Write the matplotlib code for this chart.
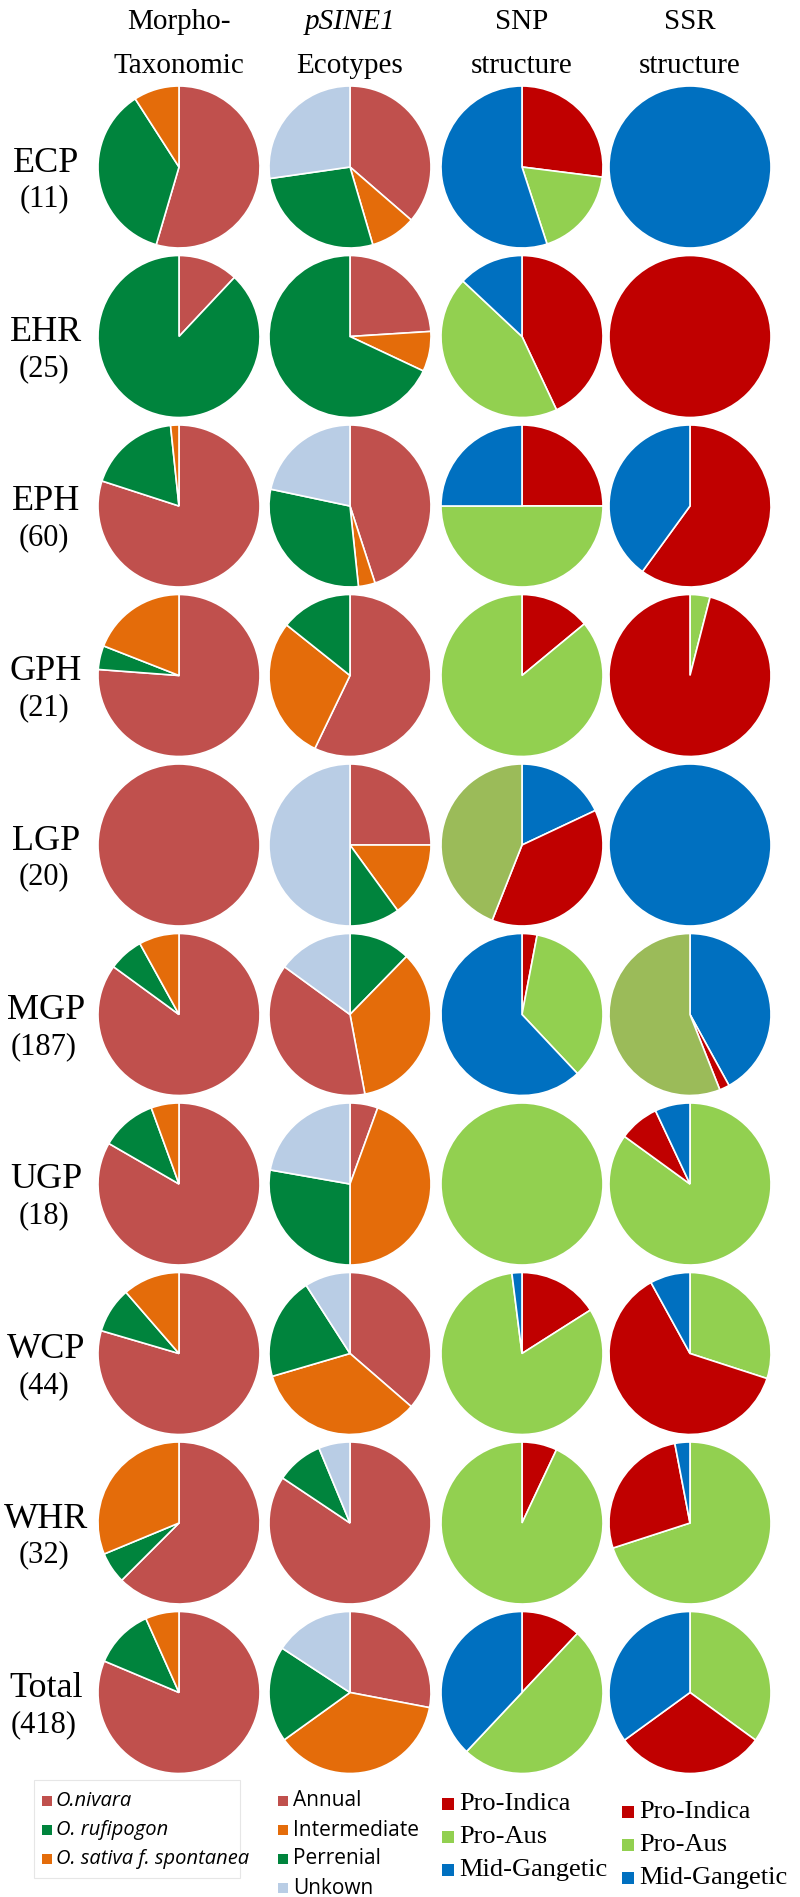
import matplotlib
matplotlib.use("Agg")
import matplotlib.pyplot as plt
from matplotlib.patches import Rectangle

regions = ["ECP", "EHR", "EPH", "GPH", "LGP", "MGP", "UGP", "WCP", "WHR", "Total"]
counts = ["(11)", "(25)", "(60)", "(21)", "(20)", "(187)", "(18)", "(44)", "(32)", "(418)"]
headers = [("Morpho-", "Taxonomic"), ("pSINE1", "Ecotypes"), ("SNP", "structure"), ("SSR", "structure")]

# Morpho-taxonomic: O.nivara, O. rufipogon, O. sativa f. spontanea
morpho = [[6, 4, 1], [3, 22, 0], [48, 11, 1], [16, 1, 4], [20, 0, 0],
          [159, 13, 15], [15, 2, 1], [35, 4, 5], [20, 2, 10], [340, 50, 28]]
# pSINE1 ecotypes: Annual, Intermediate, Perrenial, Unkown
ecotype = [[4, 1, 3, 3], [6, 2, 17, 0], [27, 2, 18, 13], [12, 6, 3, 0], [5, 3, 2, 10],
           [71, 65, 23, 28], [1, 8, 5, 4], [16, 15, 9, 4], [27, 0, 3, 2], [117, 155, 80, 66]]
# SNP structure: Pro-Indica, Pro-Aus, Mid-Gangetic
snp = [[27, 18, 55], [43, 44, 13], [25, 50, 25], [14, 86, 0], [38, 44, 18],
       [3, 35, 62], [0, 100, 0], [16, 82, 2], [7, 93, 0], [12, 50, 38]]
# SSR structure: Pro-Indica, Pro-Aus, Mid-Gangetic
ssr = [[0, 0, 100], [100, 0, 0], [60, 0, 40], [96, 4, 0], [0, 0, 100],
       [2, 56, 42], [8, 85, 7], [62, 30, 8], [27, 70, 3], [30, 35, 35]]

# clockwise slice order from 12 o'clock (indices into each value list)
eco_order = {5: [2, 1, 0, 3]}
snp_order = {4: [2, 0, 1]}
ssr_order = {3: [1, 0, 2], 5: [2, 0, 1], 6: [1, 0, 2], 7: [1, 0, 2], 8: [1, 0, 2], 9: [1, 0, 2]}
olive_snp = {4}
olive_ssr = {5}

c_morpho = ["#c0504d", "#00843d", "#e46c0a"]
c_eco = ["#c0504d", "#e46c0a", "#00843d", "#b9cde5"]
c_gen = ["#c00000", "#92d050", "#0070c0"]
OLIVE = "#9bbb59"

W, H = 800, 1897
fig = plt.figure(figsize=(W / 100, H / 100), dpi=100)
ax = fig.add_axes([0, 0, 1, 1])

def Y(y):
    return H - y

colx = [179, 350, 522, 690]
r = 81
serif = "Liberation Serif"

def draw(vals, colors, order, cx, cy):
    v = [vals[k] for k in order]
    c = [colors[k] for k in order]
    keep = [(a, b) for a, b in zip(v, c) if a > 0]
    ax.pie([k[0] for k in keep], colors=[k[1] for k in keep], startangle=90, counterclock=False,
           center=(cx, Y(cy)), radius=r, frame=True,
           wedgeprops=dict(edgecolor="white", linewidth=1.2))

for i in range(len(regions)):
    cy = 167 + 169.5 * i
    draw(morpho[i], c_morpho, [0, 1, 2], colx[0], cy)
    draw(ecotype[i], c_eco, eco_order.get(i, [0, 1, 2, 3]), colx[1], cy)
    cs = list(c_gen)
    if i in olive_snp:
        cs[1] = OLIVE
    draw(snp[i], cs, snp_order.get(i, [0, 1, 2]), colx[2], cy)
    cs = list(c_gen)
    if i in olive_ssr:
        cs[1] = OLIVE
    draw(ssr[i], cs, ssr_order.get(i, [0, 1, 2]), colx[3], cy)

ax.set_xlim(0, W)
ax.set_ylim(0, H)
ax.set_aspect("equal")
ax.axis("off")

for i, (a, b) in enumerate(headers):
    st = "italic" if i == 1 else "normal"
    ax.text(colx[i], Y(22), a, ha="center", va="center", fontsize=21, family=serif, style=st)
    ax.text(colx[i], Y(66), b, ha="center", va="center", fontsize=21, family=serif)

for i in range(len(regions)):
    cy = 167 + 169.5 * i
    ax.text(46, Y(cy - 4), regions[i], ha="center", va="center", fontsize=26, family=serif)
    ax.text(44, Y(cy + 32), counts[i], ha="center", va="center", fontsize=22, family=serif)

# legends
leg1 = ["O.nivara", "O. rufipogon", "O. sativa f. spontanea"]
leg2 = ["Annual", "Intermediate", "Perrenial", "Unkown"]
leg3 = ["Pro-Indica", "Pro-Aus", "Mid-Gangetic"]

ax.add_patch(Rectangle((34, Y(1878)), 206, 98, fill=False, edgecolor="#e6e6e6", lw=0.8))
for j, t in enumerate(leg1):
    y = 1801 + 29 * j
    ax.add_patch(Rectangle((42, Y(y) - 5), 10, 10, color=c_morpho[j], lw=0))
    ax.text(56, Y(y), t, va="center", fontsize=14.5, family="Open Sans", style="italic")
for j, t in enumerate(leg2):
    y = 1801 + 29 * j
    ax.add_patch(Rectangle((278, Y(y) - 5), 10, 10, color=c_eco[j], lw=0))
    ax.text(293, Y(y), t, va="center", fontsize=15, family="Open Sans")
for j, t in enumerate(leg3):
    y = 1804 + 33 * j
    ax.add_patch(Rectangle((442, Y(y) - 6), 12, 12, color=c_gen[j], lw=0))
    ax.text(459, Y(y), t, va="center", fontsize=19, family=serif)
for j, t in enumerate(leg3):
    y = 1812 + 33 * j
    ax.add_patch(Rectangle((622, Y(y) - 6), 12, 12, color=c_gen[j], lw=0))
    ax.text(639, Y(y), t, va="center", fontsize=19, family=serif)

fig.savefig("out.png", dpi=100)
